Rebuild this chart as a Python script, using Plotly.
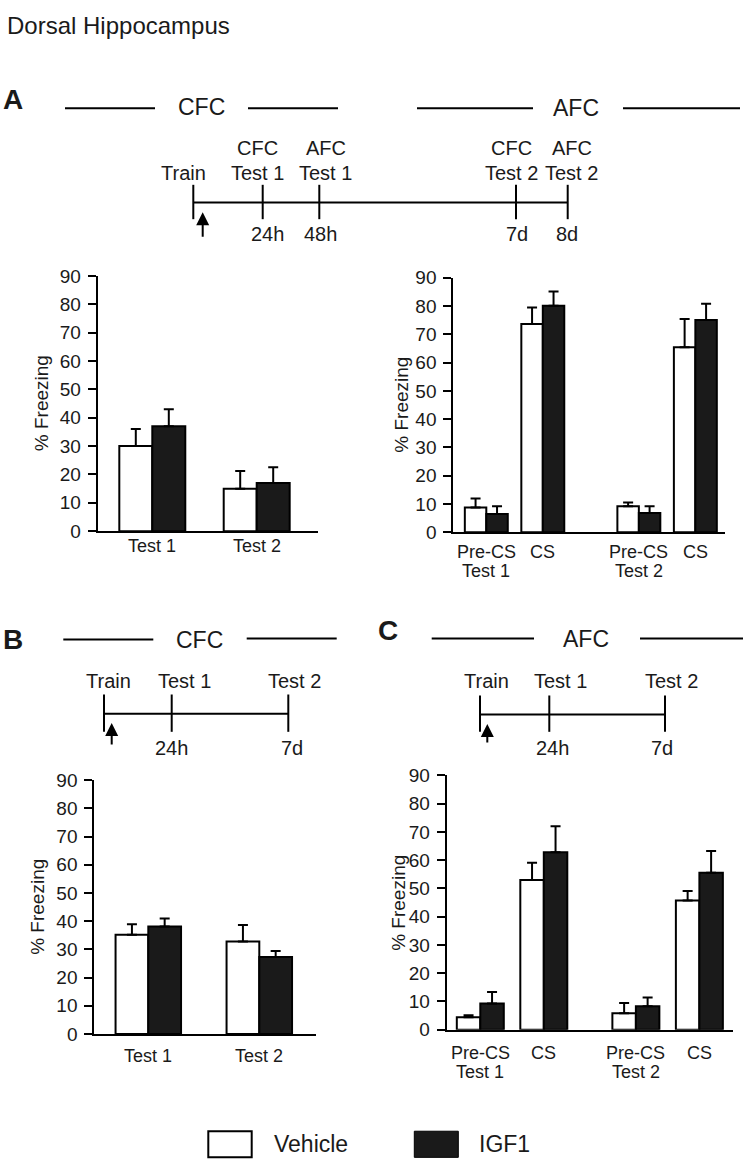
import plotly.graph_objects as go

W, H = 743, 1171
FONT = "Liberation Sans, Arial, Helvetica, sans-serif"
INK = "#1a1a1a"

# ---------------- data ----------------
cfc_tests = ["Test 1", "Test 2"]
afc_phases = ["Pre-CS", "CS", "Pre-CS", "CS"]
afc_tests = ["Test 1", "Test 2"]
y_ticks = [0, 10, 20, 30, 40, 50, 60, 70, 80, 90]
series_names = ["Vehicle", "IGF1"]

# Panel A, contextual fear conditioning
a_cfc_vehicle = [30.0, 15.0]
a_cfc_vehicle_sem = [6.0, 6.2]
a_cfc_igf1 = [37.0, 17.0]
a_cfc_igf1_sem = [6.0, 5.5]

# Panel A, auditory fear conditioning
a_afc_vehicle = [8.7, 73.7, 9.2, 65.4]
a_afc_vehicle_sem = [3.2, 5.8, 1.3, 10.0]
a_afc_igf1 = [6.4, 80.1, 6.8, 75.1]
a_afc_igf1_sem = [2.8, 5.1, 2.4, 5.7]

# Panel B, contextual fear conditioning
b_vehicle = [35.2, 32.8]
b_vehicle_sem = [3.7, 5.9]
b_igf1 = [38.1, 27.3]
b_igf1_sem = [2.9, 2.1]

# Panel C, auditory fear conditioning
c_vehicle = [4.4, 53.0, 5.8, 45.7]
c_vehicle_sem = [0.7, 6.1, 3.6, 3.4]
c_igf1 = [9.3, 62.8, 8.3, 55.5]
c_igf1_sem = [4.0, 9.2, 3.1, 7.7]


def X(p):
    return p / W


def Y(p):
    return 1 - p / H


# layout of the four bar charts (pixel geometry)
charts = [
    dict(key="", x0=97.7, x1=318.0, ybot=530.7, ytop=270.7, pos=[0, 1], first=152.3, unit=104.4,
         bw=0.316, veh=a_cfc_vehicle, vsem=a_cfc_vehicle_sem, igf=a_cfc_igf1, isem=a_cfc_igf1_sem,
         cats=cfc_tests, row1=546.0, groups=None, row2=None, ytitle_x=41.7),
    dict(key="2", x0=453.3, x1=725.0, ybot=531.7, ytop=272.7, pos=[0, 1, 2.7, 3.7], first=486.3, unit=56.5,
         bw=0.38, veh=a_afc_vehicle, vsem=a_afc_vehicle_sem, igf=a_afc_igf1, isem=a_afc_igf1_sem,
         cats=afc_phases, row1=551.7, groups=afc_tests, row2=571.0, ytitle_x=401.7),
    dict(key="3", x0=94.3, x1=316.0, ybot=1042.7, ytop=784.3, pos=[0, 1], first=148.3, unit=111.0,
         bw=0.295, veh=b_vehicle, vsem=b_vehicle_sem, igf=b_igf1, isem=b_igf1_sem,
         cats=cfc_tests, row1=1065.0, groups=None, row2=None, ytitle_x=36.7),
    dict(key="4", x0=446.7, x1=732.7, ybot=1038.3, ytop=779.3, pos=[0, 1, 2.45, 3.45], first=480.3, unit=63.5,
         bw=0.37, veh=c_vehicle, vsem=c_vehicle_sem, igf=c_igf1, isem=c_igf1_sem,
         cats=afc_phases, row1=1061.7, groups=afc_tests, row2=1081.0, ytitle_x=398.3),
]

fig = go.Figure()
layout = dict(
    width=W, height=H, margin=dict(l=0, r=0, t=0, b=0),
    paper_bgcolor="white", plot_bgcolor="white",
    font=dict(family=FONT, color=INK, size=19),
    showlegend=False, barmode="overlay",
)
annotations = []
shapes = []

for c in charts:
    xa = "x" + c["key"]
    ya = "y" + c["key"]
    err_style = dict(type="data", symmetric=False, color="black", thickness=2, width=5)
    fig.add_trace(go.Bar(
        x=c["pos"], y=c["veh"], width=c["bw"], offset=-c["bw"], name=series_names[0],
        marker=dict(color="white", line=dict(color="black", width=2)),
        error_y=dict(array=c["vsem"], arrayminus=[0] * len(c["vsem"]), **err_style),
        xaxis=xa, yaxis=ya,
    ))
    fig.add_trace(go.Bar(
        x=c["pos"], y=c["igf"], width=c["bw"], offset=0, name=series_names[1],
        marker=dict(color=INK, line=dict(color="black", width=2)),
        error_y=dict(array=c["isem"], arrayminus=[0] * len(c["isem"]), **err_style),
        xaxis=xa, yaxis=ya,
    ))
    xr = [(c["x0"] - c["first"]) / c["unit"], (c["x1"] - c["first"]) / c["unit"]]
    layout["xaxis" + c["key"]] = dict(
        domain=[X(c["x0"]), X(c["x1"])], range=xr, anchor=ya,
        showline=True, linecolor="black", linewidth=2, ticks="", showticklabels=False,
        showgrid=False, zeroline=False, fixedrange=True,
    )
    layout["yaxis" + c["key"]] = dict(
        domain=[Y(c["ybot"]), Y(c["ytop"])], range=[0, 90], anchor=xa,
        showline=True, linecolor="black", linewidth=2, ticks="outside", ticklen=8, tickwidth=2,
        tickcolor="black", tickvals=y_ticks, tickfont=dict(size=19, color=INK),
        ticklabelstandoff=3, showgrid=False, zeroline=False, fixedrange=True,
    )
    # category labels
    for p, lab in zip(c["pos"], c["cats"]):
        annotations.append(dict(x=p, xref=xa, y=Y(c["row1"]), yref="paper", text=lab,
                                showarrow=False, xanchor="center", yanchor="middle",
                                font=dict(size=18)))
    if c["groups"]:
        for p, lab in zip([c["pos"][0], c["pos"][2]], c["groups"]):
            annotations.append(dict(x=p, xref=xa, y=Y(c["row2"]), yref="paper", text=lab,
                                    showarrow=False, xanchor="center", yanchor="middle",
                                    font=dict(size=18)))
    # y title
    annotations.append(dict(x=X(c["ytitle_x"]), y=Y((c["ybot"] + c["ytop"]) / 2), xref="paper", yref="paper",
                            text="% Freezing", textangle=-90, showarrow=False,
                            xanchor="center", yanchor="middle", font=dict(size=19)))


def txt(x, y, s, size=20, anchor="center", bold=False):
    annotations.append(dict(x=X(x), y=Y(y), xref="paper", yref="paper",
                            text=("<b>%s</b>" % s) if bold else s, showarrow=False,
                            xanchor=anchor, yanchor="middle", font=dict(size=size)))


def line(x0, y0, x1, y1, w=2):
    shapes.append(dict(type="line", xref="paper", yref="paper", x0=X(x0), y0=Y(y0), x1=X(x1), y1=Y(y1),
                       line=dict(color="black", width=w)))


def arrow(x, ytip, ytail):
    annotations.append(dict(x=X(x), y=Y(ytip), xref="paper", yref="paper", ax=0, ay=ytail - ytip,
                            axref="pixel", ayref="pixel", text="", showarrow=True,
                            arrowhead=2, arrowsize=1.3, arrowwidth=2, arrowcolor="black",
                            standoff=0, startstandoff=0))


# title
txt(5, 16, "Dorsal Hippocampus", size=24, anchor="left")

# ---- Panel A header ----
txt(12.5, 91, "A", size=28, bold=True)
line(65, 100, 155, 100)
txt(201, 99, "CFC", size=23)
line(248, 100, 338, 100)
line(417, 100, 533, 100)
txt(576, 100, "AFC", size=23)
line(623, 100, 740, 100)

# Panel A timeline
line(193.3, 196, 567.7, 196)
for tx in [193.3, 262.7, 319.3, 516.0, 567.7]:
    line(tx, 178, tx, 213)
txt(183.3, 166, "Train")
for cx, l1, l2 in [(257.5, "CFC", "Test 1"), (325.5, "AFC", "Test 1"),
                   (511.0, "CFC", "Test 2"), (571.7, "AFC", "Test 2")]:
    txt(cx, 141, l1)
    txt(cx, 166, l2)
for cx, s in [(267, "24h"), (320, "48h"), (516.7, "7d"), (567, "8d")]:
    txt(cx, 228, s)
arrow(202.7, 206, 232)

# ---- Panel B header ----
txt(13, 641, "B", size=28, bold=True)
line(63.3, 641, 153.3, 641)
txt(199, 641, "CFC", size=23)
line(246.7, 640, 336.7, 640)
line(104, 716.7, 288.3, 716.7)
for tx in [104, 171.7, 288.3]:
    line(tx, 697, tx, 735)
txt(108.3, 683.3, "Train")
txt(184, 683.3, "Test 1")
txt(294, 683.3, "Test 2")
txt(171, 751.7, "24h")
txt(291.7, 751.7, "7d")
arrow(111.7, 726, 749)

# ---- Panel C header ----
txt(387.5, 632, "C", size=28, bold=True)
line(431.7, 640, 534, 640)
txt(586, 640, "AFC", size=23)
line(640, 640, 743, 640)
line(480, 717.3, 665, 717.3)
for tx in [480, 549.3, 665]:
    line(tx, 698, tx, 735)
txt(486, 683.3, "Train")
txt(560, 683.3, "Test 1")
txt(671, 683.3, "Test 2")
txt(552.5, 751.7, "24h")
txt(661.7, 751.7, "7d")
arrow(487.3, 727, 747)

# ---- legend ----
shapes.append(dict(type="rect", xref="paper", yref="paper", x0=X(208.3), x1=X(251.7), y0=Y(1168.3), y1=Y(1141.7),
                   line=dict(color="black", width=2), fillcolor="white"))
shapes.append(dict(type="rect", xref="paper", yref="paper", x0=X(414.3), x1=X(458.3), y0=Y(1168.3), y1=Y(1141.7),
                   line=dict(color="black", width=1), fillcolor=INK))
txt(271.7, 1155, series_names[0], size=23, anchor="left")
txt(476.7, 1155, series_names[1], size=23, anchor="left")

layout["annotations"] = annotations
layout["shapes"] = shapes
fig.update_layout(**layout)
fig.write_html("out.html", config={"displayModeBar": False, "staticPlot": True},
               post_script="document.body.style.margin='0';document.body.style.padding='0';")
